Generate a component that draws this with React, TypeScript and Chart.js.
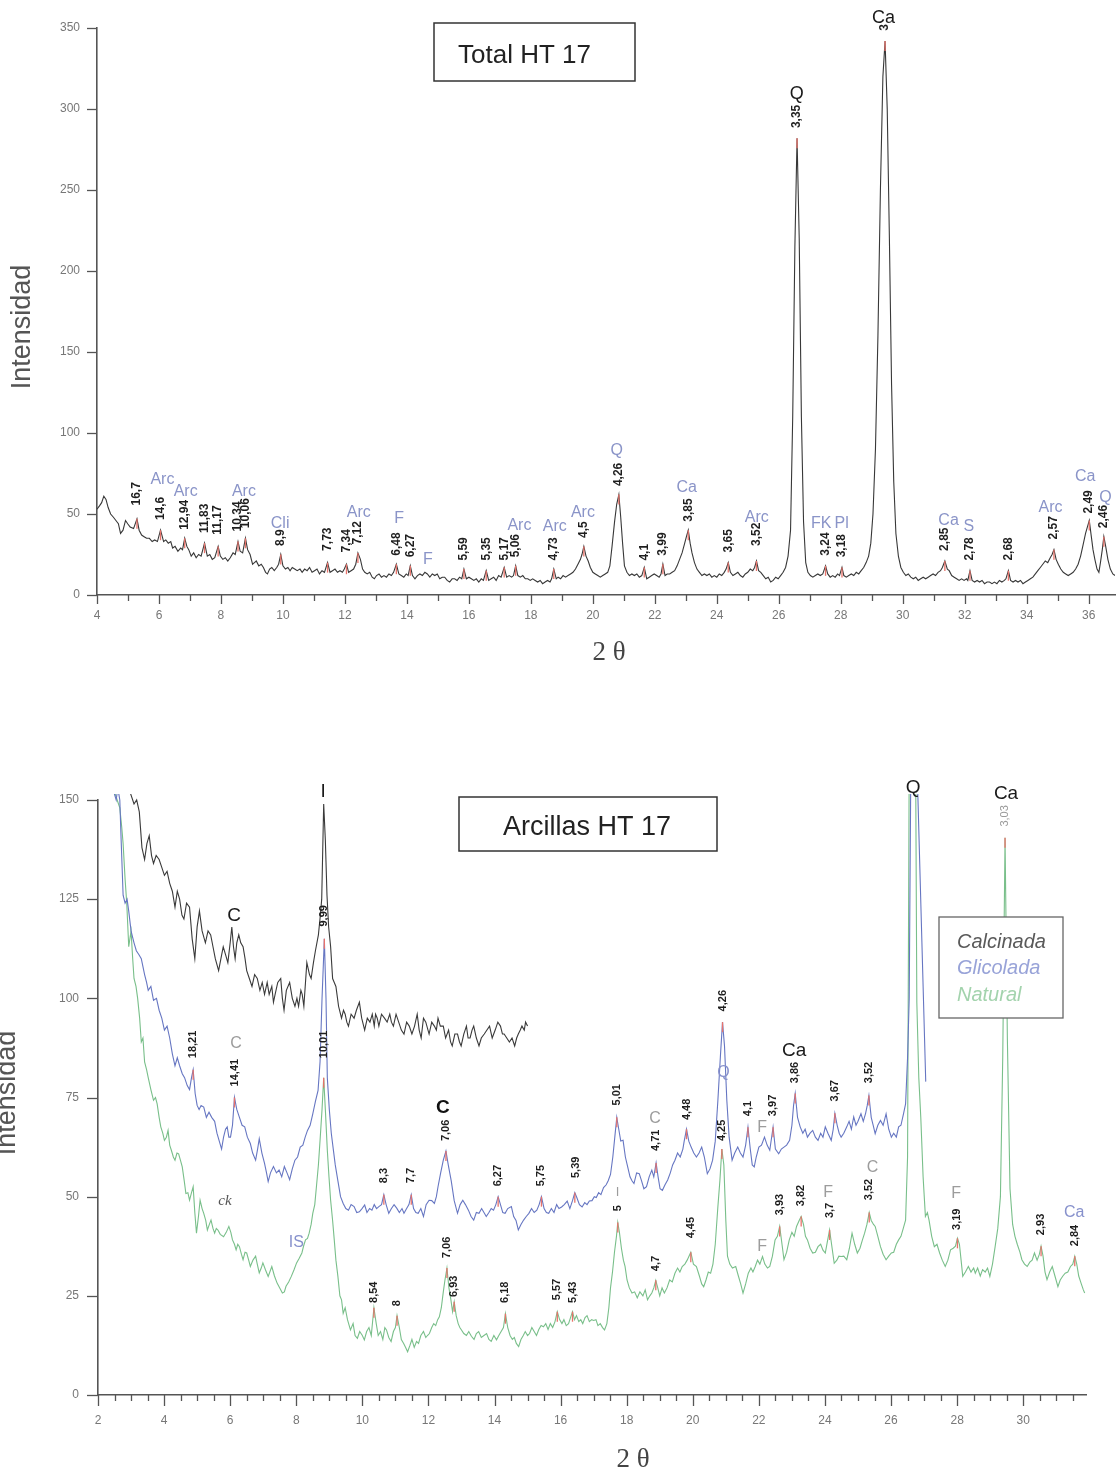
import React, { useEffect, useRef } from "react";
import { Chart, registerables } from "chart.js";

Chart.register(...registerables);

const SANS = '"Liberation Sans", Arial, Helvetica, sans-serif';
const SERIF = '"Liberation Serif", "DejaVu Serif", serif';
Chart.defaults.font.family = SANS;

type Pt = [number, number];

// ================= TOP: Total HT 17 (2θ, intensity) =================
const totalPattern: Pt[] = [
  [4.0,53],[4.08,55],[4.15,57],[4.22,61],[4.29,59],[4.36,54],[4.44,50],[4.53,48],[4.61,46],[4.69,44],[4.76,38],[4.84,40],[4.92,46],[4.99,44],[5.07,42],[5.18,41],[5.29,47],[5.36,40],[5.44,37],[5.52,36],[5.6,35],[5.69,35],[5.78,33],[5.86,34],[5.95,33],[6.05,40],[6.15,33],[6.22,34],[6.3,32],[6.38,33],[6.44,29],[6.52,30],[6.61,27],[6.7,29],[6.76,28],[6.83,35],[6.9,30],[6.96,28],[7.04,24],[7.12,26],[7.2,23],[7.28,25],[7.36,24],[7.47,32],[7.56,24],[7.64,25],[7.72,22],[7.8,23],[7.91,30],[7.98,24],[8.06,22],[8.14,23],[8.22,21],[8.3,23],[8.39,26],[8.46,25],[8.55,33],[8.62,27],[8.7,26],[8.79,35],[8.86,28],[8.94,25],[9.02,19],[9.08,20],[9.14,21],[9.22,18],[9.3,19],[9.37,17],[9.44,14],[9.5,13],[9.57,16],[9.64,17],[9.72,15],[9.8,17],[9.86,19],[9.93,25],[10.0,18],[10.08,16],[10.16,17],[10.23,15],[10.3,17],[10.38,16],[10.46,15],[10.55,16],[10.62,14],[10.7,16],[10.78,15],[10.86,17],[10.94,14],[11.02,15],[11.1,16],[11.18,13],[11.26,15],[11.34,14],[11.44,20],[11.52,14],[11.6,15],[11.68,16],[11.76,14],[11.84,15],[11.92,14],[11.98,16],[12.05,19],[12.12,14],[12.2,15],[12.28,16],[12.35,19],[12.42,26],[12.5,22],[12.57,16],[12.64,14],[12.72,13],[12.8,14],[12.88,11],[12.95,10],[13.02,12],[13.1,13],[13.18,11],[13.26,12],[13.34,11],[13.42,13],[13.5,12],[13.57,14],[13.66,19],[13.74,13],[13.82,12],[13.9,11],[13.98,13],[14.04,12],[14.11,18],[14.18,12],[14.26,10],[14.34,12],[14.42,13],[14.5,12],[14.58,14],[14.66,13],[14.74,11],[14.82,13],[14.9,12],[14.98,13],[15.06,10],[15.14,11],[15.22,11],[15.3,9],[15.38,8],[15.46,10],[15.54,10],[15.62,9],[15.7,11],[15.77,10],[15.84,16],[15.92,10],[16.0,11],[16.08,10],[16.16,9],[16.24,10],[16.32,8],[16.4,10],[16.47,9],[16.56,15],[16.64,9],[16.72,10],[16.8,11],[16.88,9],[16.96,12],[17.04,11],[17.14,17],[17.22,11],[17.3,12],[17.38,11],[17.44,12],[17.51,18],[17.58,12],[17.66,11],[17.74,12],[17.82,10],[17.9,10],[17.98,9],[18.06,10],[18.14,9],[18.22,8],[18.3,9],[18.38,7],[18.46,8],[18.54,9],[18.62,8],[18.67,10],[18.74,16],[18.82,10],[18.88,11],[18.96,10],[19.04,12],[19.12,11],[19.2,12],[19.28,13],[19.36,14],[19.44,16],[19.52,19],[19.6,22],[19.65,25],[19.71,30],[19.78,24],[19.85,21],[19.92,17],[20.0,14],[20.08,13],[20.16,12],[20.24,11],[20.32,12],[20.4,13],[20.48,14],[20.55,18],[20.62,30],[20.7,45],[20.77,56],[20.84,62],[20.9,48],[20.96,32],[21.02,18],[21.1,14],[21.18,12],[21.26,13],[21.34,12],[21.42,13],[21.5,11],[21.58,12],[21.66,17],[21.74,10],[21.82,11],[21.9,12],[21.98,13],[22.06,12],[22.14,11],[22.2,13],[22.26,19],[22.33,12],[22.4,13],[22.48,13],[22.56,14],[22.64,15],[22.72,18],[22.8,22],[22.88,26],[22.95,31],[23.02,36],[23.08,40],[23.14,32],[23.2,26],[23.28,20],[23.36,16],[23.44,14],[23.52,12],[23.6,13],[23.68,12],[23.76,13],[23.84,11],[23.92,12],[24.0,11],[24.08,13],[24.16,12],[24.24,14],[24.3,16],[24.37,20],[24.44,14],[24.52,12],[24.6,13],[24.68,14],[24.76,12],[24.84,11],[24.92,13],[25.0,14],[25.08,16],[25.16,15],[25.22,17],[25.28,21],[25.35,15],[25.42,14],[25.5,12],[25.58,10],[25.66,11],[25.74,8],[25.82,9],[25.9,11],[25.98,10],[26.06,12],[26.14,14],[26.22,17],[26.3,24],[26.38,40],[26.45,110],[26.52,215],[26.59,282],[26.66,220],[26.73,110],[26.8,45],[26.87,20],[26.94,14],[27.02,12],[27.1,11],[27.18,12],[27.26,13],[27.34,12],[27.42,13],[27.51,18],[27.58,13],[27.66,11],[27.74,12],[27.82,11],[27.9,13],[27.96,12],[28.04,17],[28.1,12],[28.18,11],[28.26,12],[28.34,13],[28.42,12],[28.5,14],[28.58,13],[28.66,15],[28.74,17],[28.82,20],[28.9,24],[28.97,32],[29.04,50],[29.12,90],[29.2,160],[29.28,250],[29.36,320],[29.43,342],[29.5,300],[29.57,220],[29.64,130],[29.71,70],[29.78,38],[29.86,24],[29.94,17],[30.02,14],[30.1,12],[30.18,13],[30.26,11],[30.34,10],[30.42,11],[30.5,9],[30.58,10],[30.66,11],[30.74,10],[30.82,11],[30.9,12],[30.98,13],[31.06,12],[31.14,14],[31.22,15],[31.28,17],[31.36,21],[31.44,16],[31.5,15],[31.58,12],[31.66,11],[31.74,10],[31.82,9],[31.9,10],[31.98,9],[32.06,10],[32.1,9],[32.17,15],[32.24,9],[32.32,8],[32.4,9],[32.48,8],[32.56,9],[32.64,7],[32.72,8],[32.8,8],[32.88,7],[32.96,8],[33.04,7],[33.12,9],[33.2,8],[33.28,9],[33.33,10],[33.41,15],[33.48,9],[33.56,8],[33.64,9],[33.72,8],[33.8,9],[33.88,7],[33.96,8],[34.04,9],[34.12,10],[34.2,11],[34.28,13],[34.36,15],[34.44,17],[34.52,19],[34.6,21],[34.68,20],[34.76,23],[34.82,25],[34.88,28],[34.95,22],[35.02,19],[35.1,16],[35.18,14],[35.26,13],[35.34,12],[35.42,13],[35.5,14],[35.58,16],[35.66,19],[35.74,24],[35.82,31],[35.9,38],[35.96,42],[36.02,46],[36.08,37],[36.14,28],[36.2,22],[36.27,16],[36.33,14],[36.38,20],[36.44,28],[36.49,36],[36.55,30],[36.62,22],[36.7,16],[36.78,13],[36.85,12]
];

// d-spacing labels: text, 2θ, intensity where the label starts
const totalPeakLabels: [string, number, number][] = [
  ["16,7",5.29,54],["14,6",6.05,45],["12,94",6.83,39],["11,83",7.47,37],["11,17",7.91,36],["10,34",8.55,38],["10,06",8.79,40],["8,9",9.93,29],["7,73",11.44,26],["7,34",12.05,25],["7,12",12.42,30],["6,48",13.66,23],["6,27",14.11,22],["5,59",15.84,20],["5,35",16.56,20],["5,17",17.14,20],["5,06",17.51,22],["4,73",18.74,20],["4,5",19.71,34],["4,26",20.84,66],["4,1",21.66,20],["3,99",22.26,23],["3,85",23.08,44],["3,65",24.37,25],["3,52",25.28,29],["3,35",26.59,287],["3",29.43,347],["3,24",27.51,23],["3,18",28.04,22],["2,85",31.36,26],["2,78",32.17,20],["2,68",33.41,20],["2,57",34.88,33],["2,49",36.0,49],["2,46",36.49,40]
];

// mineral phase tags: text, 2θ, intensity (centre)
const totalPhaseTags: [string, number, number][] = [
  ["Arc",6.11,71],["Arc",6.86,64],["Arc",8.74,64],["Cli",9.91,44],["Arc",12.45,51],["F",13.75,47],["F",14.68,22],["Arc",17.63,43],["Arc",18.77,42],["Arc",19.68,51],["Q",20.77,89],["Ca",23.03,66],["Arc",25.29,48],["FK",27.37,44],["Pl",28.03,44],["Ca",31.48,46],["S",32.13,42],["Arc",34.77,54],["Ca",35.89,73],["Q",36.54,60]
];
const totalMainTags: [string, number, number][] = [["Q",26.58,309],["Ca",29.38,356]];

// ================= BOTTOM: Arcillas HT 17 =================
const clayLegend = ["Calcinada", "Glicolada", "Natural"];

const calcinada: Pt[] = [
  [2.97,152],[3.09,149],[3.17,150],[3.25,147],[3.33,138],[3.41,135],[3.48,139],[3.55,141],[3.62,136],[3.68,134],[3.76,136],[3.85,135],[3.93,133],[4.01,131],[4.09,132],[4.17,129],[4.25,127],[4.33,123],[4.4,127],[4.47,125],[4.54,121],[4.6,120],[4.68,124],[4.77,123],[4.85,115],[4.93,110],[5.0,118],[5.07,122],[5.15,117],[5.25,114],[5.33,117],[5.41,116],[5.48,113],[5.55,110],[5.65,107],[5.72,110],[5.79,113],[5.86,111],[5.93,109],[6.0,114],[6.05,118],[6.1,113],[6.15,110],[6.2,114],[6.26,116],[6.32,114],[6.39,113],[6.45,110],[6.5,107],[6.58,105],[6.66,103],[6.74,106],[6.82,105],[6.9,102],[6.97,104],[7.04,101],[7.12,104],[7.18,101],[7.26,103],[7.31,99],[7.36,101],[7.44,104],[7.53,105],[7.58,100],[7.63,97],[7.7,102],[7.8,104],[7.88,100],[7.96,98],[8.02,100],[8.07,98],[8.14,102],[8.18,101],[8.23,98],[8.32,109],[8.4,106],[8.45,105],[8.52,109],[8.58,112],[8.67,116],[8.73,121],[8.77,125],[8.83,149],[8.88,140],[8.93,126],[8.98,118],[9.04,113],[9.1,105],[9.15,104],[9.2,103],[9.28,98],[9.37,95],[9.43,97],[9.48,96],[9.53,94],[9.58,93],[9.66,96],[9.75,95],[9.82,97],[9.91,99],[9.98,95],[10.07,92],[10.15,95],[10.23,94],[10.3,96],[10.36,93],[10.4,96],[10.45,95],[10.5,93],[10.58,96],[10.67,95],[10.75,94],[10.83,96],[10.88,94],[10.94,93],[11.02,96],[11.1,94],[11.18,92],[11.26,91],[11.34,94],[11.42,93],[11.5,91],[11.58,93],[11.66,96],[11.72,92],[11.78,90],[11.85,95],[11.92,94],[12.02,91],[12.1,94],[12.18,93],[12.24,92],[12.29,95],[12.36,93],[12.45,93],[12.52,90],[12.61,92],[12.67,89],[12.72,88],[12.8,91],[12.88,91],[12.94,89],[12.99,88],[13.07,91],[13.15,93],[13.2,90],[13.26,90],[13.32,92],[13.37,93],[13.45,90],[13.53,88],[13.6,90],[13.69,91],[13.77,92],[13.85,93],[13.93,90],[14.02,92],[14.1,94],[14.18,93],[14.24,91],[14.29,91],[14.37,90],[14.45,89],[14.53,90],[14.61,88],[14.67,90],[14.72,91],[14.78,92],[14.83,93],[14.9,92],[14.94,94],[15.0,93]
];

const glicolada: Pt[] = [
  [2.42,160],[2.48,152],[2.55,150],[2.6,153],[2.66,150],[2.7,140],[2.76,126],[2.82,124],[2.88,125],[2.93,122],[3.0,117],[3.09,114],[3.16,112],[3.24,111],[3.31,110],[3.36,108],[3.41,106],[3.47,104],[3.52,102],[3.6,103],[3.68,99.5],[3.77,100],[3.85,97],[3.93,95],[4.01,92],[4.09,93],[4.17,90],[4.25,86],[4.33,83],[4.4,85],[4.47,83],[4.55,81],[4.62,80],[4.7,78],[4.77,77],[4.83,80],[4.88,82],[4.94,76],[5.0,73],[5.06,72],[5.12,73],[5.2,72.6],[5.28,70],[5.36,71.3],[5.44,70],[5.53,69],[5.6,66],[5.67,64],[5.74,62],[5.8,65],[5.86,67],[5.91,67.6],[5.96,65],[6.01,65],[6.07,68],[6.13,75],[6.2,72],[6.28,70],[6.36,68],[6.44,67.6],[6.52,65],[6.61,63.4],[6.68,61],[6.77,59.2],[6.83,62],[6.88,64.6],[6.96,61],[7.04,58.4],[7.1,56],[7.15,53.8],[7.22,56],[7.31,57.6],[7.4,56],[7.48,56.7],[7.56,55],[7.64,57.6],[7.72,56],[7.8,54.3],[7.88,57],[7.96,59.2],[8.04,60],[8.12,62.5],[8.2,63],[8.27,65],[8.34,66.7],[8.42,68],[8.5,70.9],[8.58,74],[8.66,76.8],[8.72,84],[8.78,100],[8.85,115],[8.9,100],[8.94,80],[9.0,72],[9.06,66],[9.12,62],[9.18,58],[9.26,54],[9.34,50],[9.42,48.3],[9.5,47],[9.58,46.6],[9.66,48],[9.75,47.5],[9.83,46],[9.91,46.2],[9.99,47],[10.07,47.9],[10.14,46],[10.22,47],[10.29,46.6],[10.36,48],[10.43,47],[10.5,47.5],[10.58,48],[10.65,50.5],[10.72,48],[10.8,45.8],[10.88,47],[10.96,48],[11.04,47.1],[11.12,46],[11.2,47],[11.26,45.8],[11.34,47],[11.41,48],[11.48,50.5],[11.55,47],[11.62,46],[11.69,45.8],[11.77,47],[11.85,45],[11.93,48],[12.02,49.1],[12.1,49],[12.18,48.3],[12.24,50],[12.29,52.5],[12.37,56],[12.45,59.2],[12.53,61.5],[12.6,58],[12.69,54],[12.78,49],[12.88,45.8],[12.96,48],[13.04,49.1],[13.12,48],[13.21,46.6],[13.29,45],[13.37,44.1],[13.45,46],[13.53,45.8],[13.61,47],[13.68,46],[13.75,45],[13.83,46],[13.9,47],[13.97,46.6],[14.04,48],[14.11,50],[14.18,48],[14.25,46],[14.32,45.8],[14.4,47],[14.51,47.5],[14.58,45],[14.65,44],[14.72,41.6],[14.8,43],[14.88,44.1],[14.96,45],[15.04,45.8],[15.12,47],[15.2,46],[15.28,46.6],[15.35,48],[15.42,50],[15.5,47],[15.57,46],[15.64,45.8],[15.72,47],[15.8,46],[15.88,48],[15.95,47],[16.03,47.4],[16.11,48],[16.2,48.9],[16.28,47],[16.36,49],[16.43,51],[16.49,49.8],[16.57,48],[16.65,47.4],[16.73,48.5],[16.8,48],[16.87,48.9],[16.95,49],[17.02,50],[17.08,49.8],[17.15,51],[17.22,50.5],[17.3,52.3],[17.38,53],[17.44,54],[17.51,55.6],[17.58,60],[17.64,65],[17.7,70],[17.76,67],[17.82,64],[17.89,64.2],[17.96,60],[18.03,57.5],[18.1,55],[18.16,54],[18.22,53.3],[18.3,56],[18.38,55.8],[18.45,54],[18.52,52],[18.6,52.5],[18.68,55],[18.76,56.7],[18.82,55],[18.89,58.5],[18.95,55],[19.01,52],[19.08,51.6],[19.16,53],[19.24,54.2],[19.32,56],[19.39,58],[19.46,59.2],[19.54,61],[19.62,60],[19.7,62],[19.74,64],[19.81,67],[19.88,64],[19.95,62.5],[20.03,61],[20.11,60],[20.19,61],[20.27,62.5],[20.35,60],[20.44,55.8],[20.52,57],[20.6,59.2],[20.68,64],[20.76,74.3],[20.84,86],[20.9,94],[20.96,88],[21.03,74.3],[21.1,65],[21.19,59.2],[21.27,61],[21.36,62.5],[21.44,61],[21.52,60],[21.6,63],[21.67,67.5],[21.74,62],[21.8,58],[21.86,57.5],[21.92,60],[22.0,62.5],[22.08,63],[22.17,65],[22.25,63],[22.33,61.7],[22.43,67.5],[22.5,62],[22.6,60.8],[22.68,62],[22.76,62.5],[22.84,63],[22.93,64.2],[23.0,68],[23.05,73],[23.1,76],[23.17,70],[23.25,67.6],[23.33,66],[23.4,67],[23.47,65],[23.55,66],[23.63,66.7],[23.71,65],[23.79,64.2],[23.87,66],[23.94,65],[24.01,67.6],[24.09,66],[24.19,64.2],[24.25,67],[24.3,71],[24.37,68],[24.43,66],[24.49,65],[24.57,66],[24.66,67.6],[24.73,69],[24.8,67],[24.87,70.1],[24.94,68],[25.0,69],[25.09,70.9],[25.16,69],[25.23,71],[25.28,73],[25.33,75.5],[25.4,70],[25.46,68],[25.52,65.9],[25.6,68],[25.68,69.2],[25.76,68],[25.85,70.9],[25.93,67],[26.01,65],[26.08,66],[26.16,65],[26.23,67.6],[26.3,68],[26.38,71],[26.44,73.4],[26.5,85],[26.55,100],[26.6,160],[26.65,200],[27.05,79]
];

const natural: Pt[] = [
  [2.42,160],[2.5,152],[2.58,150],[2.66,148],[2.72,143],[2.76,139],[2.82,130],[2.87,124],[2.93,113],[3.0,117],[3.05,110],[3.09,105],[3.15,103],[3.2,100],[3.26,95],[3.31,89],[3.36,90],[3.41,84],[3.47,82],[3.52,80],[3.6,77],[3.68,74.3],[3.74,75],[3.79,73.4],[3.85,70],[3.9,67.6],[3.96,66],[4.01,64.2],[4.07,65],[4.12,66.7],[4.17,63],[4.22,61.7],[4.28,60],[4.33,59.2],[4.39,61],[4.44,60.8],[4.5,59],[4.55,57.5],[4.61,54],[4.66,50.8],[4.72,51],[4.77,49.1],[4.83,51],[4.88,52.5],[4.93,46],[4.98,40.8],[5.04,45],[5.09,49.1],[5.15,47],[5.2,45.8],[5.26,44],[5.31,41.6],[5.37,43],[5.42,44.1],[5.48,42],[5.53,40.8],[5.58,42],[5.63,41.6],[5.7,40.5],[5.8,39.9],[5.88,41],[5.96,42.5],[6.02,41],[6.07,39.1],[6.13,38],[6.18,36.6],[6.23,38],[6.28,37.4],[6.34,35.5],[6.39,34.1],[6.45,36],[6.5,35.8],[6.56,34],[6.61,32.4],[6.69,34],[6.77,35],[6.82,33],[6.88,30.8],[6.94,32],[6.99,33.3],[7.07,31.5],[7.15,29.9],[7.2,31],[7.26,32.4],[7.34,30],[7.42,28.2],[7.5,27],[7.58,25.7],[7.64,26],[7.69,27.4],[7.77,28.5],[7.85,29.9],[7.93,31.5],[8.01,33.3],[8.09,34.5],[8.17,35.8],[8.22,37.5],[8.28,39.1],[8.34,39.5],[8.39,40.8],[8.45,43],[8.5,45.8],[8.56,48],[8.61,52.5],[8.67,58],[8.72,64.2],[8.78,72],[8.83,80],[8.88,72],[8.94,61.7],[8.99,55],[9.04,49.1],[9.1,44],[9.15,39.1],[9.2,34],[9.26,29.9],[9.32,25],[9.37,24],[9.42,20.6],[9.48,22],[9.55,19],[9.64,16.4],[9.72,18],[9.78,15],[9.85,14.3],[9.92,16],[10.0,15],[10.06,13.9],[10.13,16],[10.2,17],[10.27,15],[10.35,22],[10.42,18],[10.48,15],[10.55,16],[10.62,14],[10.68,17],[10.73,16.4],[10.8,14.5],[10.87,13.5],[10.94,16],[11.0,17],[11.05,20],[11.12,17],[11.18,14],[11.25,13],[11.31,12],[11.37,10.9],[11.44,12.5],[11.5,14],[11.57,12],[11.64,13.5],[11.7,13],[11.77,15],[11.85,16],[11.92,14.5],[11.97,15],[12.03,15.5],[12.1,17],[12.16,18],[12.22,17.5],[12.28,19],[12.33,19.7],[12.39,22],[12.45,26],[12.5,29],[12.56,32],[12.62,27],[12.68,24],[12.73,21],[12.78,23.5],[12.84,20],[12.9,18],[12.95,17],[13.0,16.4],[13.07,15.5],[13.15,15],[13.22,16],[13.3,14.8],[13.38,14],[13.45,15.5],[13.52,16],[13.6,14.5],[13.68,15],[13.76,15.5],[13.83,14],[13.9,13.5],[13.98,15],[14.06,13.9],[14.13,15],[14.2,16],[14.27,17],[14.33,20.5],[14.4,17],[14.47,15],[14.54,14],[14.6,14.5],[14.66,13],[14.73,12.2],[14.8,14],[14.87,15],[14.93,16],[15.0,15],[15.06,15.5],[15.13,17],[15.2,16],[15.27,15],[15.34,16.5],[15.41,17.5],[15.48,17.2],[15.55,18],[15.62,16.5],[15.69,18],[15.76,17],[15.83,18.5],[15.9,21],[15.97,19],[16.04,18],[16.1,19],[16.17,17.5],[16.24,18],[16.3,19.5],[16.36,21],[16.42,19],[16.48,20],[16.55,18.5],[16.61,19],[16.67,18],[16.74,19.5],[16.8,20],[16.87,18.5],[16.94,19],[17.0,18.8],[17.07,19],[17.13,17.5],[17.2,18],[17.27,17],[17.33,16.4],[17.4,18],[17.46,22],[17.51,27],[17.57,31],[17.63,36],[17.69,40],[17.73,43.5],[17.78,41],[17.84,37],[17.9,34],[17.95,32.4],[18.01,29],[18.08,27],[18.16,25.7],[18.24,26],[18.32,24.5],[18.4,26],[18.49,25],[18.56,26.5],[18.63,24],[18.7,25],[18.76,25.7],[18.82,27],[18.88,28.9],[18.94,27],[19.0,25],[19.07,27],[19.14,25.7],[19.22,27],[19.3,29],[19.38,28.5],[19.46,30.7],[19.54,32],[19.61,31],[19.68,32.4],[19.76,33],[19.83,34],[19.94,36],[20.02,33],[20.11,32.4],[20.2,30],[20.27,28],[20.33,27.3],[20.4,29],[20.47,31],[20.54,30.7],[20.61,33],[20.68,38],[20.76,47.5],[20.82,54],[20.88,62],[20.94,58],[21.0,44],[21.05,35],[21.12,33],[21.2,32],[21.3,32.4],[21.38,30],[21.45,28],[21.52,25.7],[21.6,28],[21.68,30.7],[21.76,32],[21.82,31],[21.89,32.4],[21.96,34],[22.03,33],[22.11,34.9],[22.18,33],[22.26,32],[22.33,32.4],[22.41,35],[22.49,39.1],[22.56,40],[22.63,42.5],[22.7,38],[22.76,34.1],[22.84,36],[22.92,39.1],[23.0,41],[23.07,40],[23.14,42.5],[23.22,44],[23.28,45],[23.35,43],[23.41,40],[23.47,39.1],[23.55,37],[23.63,35.8],[23.71,36],[23.79,37.4],[23.87,38],[23.94,36.5],[24.01,35.8],[24.08,39],[24.14,41.6],[24.2,38],[24.28,33.2],[24.36,34],[24.42,35],[24.49,34.9],[24.57,35],[24.66,34.1],[24.74,37],[24.82,40.8],[24.9,38],[24.98,35.8],[25.06,37],[25.13,39],[25.2,40.8],[25.27,43],[25.34,46],[25.4,44],[25.47,43],[25.52,42.5],[25.6,40],[25.68,37.4],[25.76,35.5],[25.85,34.1],[25.93,35],[26.01,35.8],[26.08,36],[26.16,38],[26.23,39.1],[26.3,40],[26.37,42],[26.44,44.1],[26.5,60],[26.56,180],[26.63,320],[26.72,200],[26.78,99],[26.84,80],[26.9,70],[26.97,55],[27.04,45],[27.1,46],[27.15,44.1],[27.23,40],[27.31,37.4],[27.39,38],[27.47,35.8],[27.55,34],[27.64,32.4],[27.72,34],[27.8,36.6],[27.88,37],[27.95,37.5],[28.01,39.5],[28.07,38],[28.12,34],[28.17,29.9],[28.25,31],[28.34,32.4],[28.42,31],[28.5,32],[28.55,30.7],[28.62,32],[28.7,30],[28.77,31.6],[28.85,31],[28.92,32],[28.99,29.9],[29.07,33],[29.15,37.4],[29.23,42],[29.31,50],[29.38,85],[29.45,140.5],[29.52,90],[29.6,52],[29.68,43],[29.75,40],[29.82,38],[29.9,36],[29.96,34.1],[30.04,33],[30.12,32.4],[30.2,33.5],[30.27,34],[30.34,35.8],[30.42,34],[30.49,35.5],[30.54,37.5],[30.6,35],[30.66,31],[30.72,29.1],[30.8,31],[30.88,32.4],[30.96,30],[31.05,27.3],[31.12,29],[31.2,30],[31.27,30.7],[31.35,31],[31.43,32.4],[31.5,33],[31.56,35],[31.62,33],[31.68,30],[31.75,28.2],[31.82,26.5],[31.86,25.7]
];

// d-spacing labels: text, 2θ, intensity where the label starts, series (b = Glicolada, g = Natural)
const clayPeakLabels: [string, number, number, string][] = [
  ["18,21",4.86,84.4,"b"],["14,41",6.13,77.3,"b"],["9,99",8.83,117.6,"b"],["8,3",10.65,52.9,"b"],["7,7",11.48,52.9,"b"],["7,06",12.53,63.5,"b"],["6,27",14.11,52.1,"b"],["5,75",15.42,52.1,"b"],["5,39",16.45,54.2,"b"],["5,01",17.7,72.5,"b"],["4,71",18.89,61,"b"],["4,48",19.81,68.8,"b"],["4,26",20.9,96.2,"b"],["4,1",21.67,69.8,"b"],["3,97",22.43,69.8,"b"],["3,86",23.1,78.1,"b"],["3,67",24.3,73.5,"b"],["3,52",25.33,78.1,"b"],
  ["10,01",8.83,84.4,"g"],["8,54",10.35,22.7,"g"],["8",11.05,21.9,"g"],["7,06",12.56,34,"g"],["6,93",12.78,24.2,"g"],["6,18",14.33,22.7,"g"],["5,57",15.9,23.4,"g"],["5,43",16.36,22.7,"g"],["5",17.73,45.8,"g"],["4,7",18.88,30.7,"g"],["4,45",19.94,39,"g"],["4,25",20.88,63.5,"g"],["3,93",22.63,44.8,"g"],["3,82",23.28,47.1,"g"],["3,7",24.14,44.1,"g"],["3,52",25.34,48.6,"g"],["3,19",28.01,41.1,"g"],["2,93",30.54,39.8,"g"],["2,84",31.56,37,"g"]
];
const clayFaintLabels: [string, number, number, string][] = [["3,03",29.45,142.8,"g"]];

// tags: text, 2θ, intensity (centre), style
const clayTags: [string, number, number, string][] = [
  ["I",8.81,152,"main"],["Q",26.67,153,"main"],["Ca",29.48,151.6,"main"],["C",6.12,120.9,"main"],["C",12.44,72.5,"mainBold"],["Ca",23.07,86.9,"main"],
  ["C",6.18,88.7,"grey"],["C",18.86,69.8,"grey"],["F",22.1,67.5,"grey"],["F",22.1,37.3,"grey"],["F",24.1,51.1,"grey"],["C",25.44,57.4,"grey"],["F",27.97,50.9,"grey"],["I",17.72,51,"greySmall"],
  ["Q",20.93,81.4,"blue"],["Ca",31.54,46.1,"blue"],["IS",8.0,38.3,"blue"],["ck",5.84,49,"hand"]
];

// ================= styling =================
const TAG_STYLE: Record<string, { font: string; color: string }> = {
  phase: { font: `16px ${SANS}`, color: "#8a94c8" },
  main: { font: `19px ${SANS}`, color: "#1a1a1a" },
  mainBold: { font: `bold 19px ${SANS}`, color: "#111" },
  grey: { font: `16px ${SANS}`, color: "#9c9c9c" },
  greySmall: { font: `13px ${SANS}`, color: "#9c9c9c" },
  blue: { font: `16px ${SANS}`, color: "#8791cc" },
  hand: { font: `italic 15px ${SERIF}`, color: "#555" },
};

type PeakItem = { text: string; x: number; base: number; key: string; color: string; font: string };
type TagItem = { text: string; x: number; y: number; font: string; color: string };
type TextItem = { text: string; x: number; y: number; font: string; color: string; rotate?: boolean; align?: CanvasTextAlign; baseline?: CanvasTextBaseline };
type BoxItem = { l: number; t: number; r: number; b: number; color: string; lw: number };

interface Deco {
  series: Record<string, Pt[]>;
  peaks: PeakItem[];
  tags: TagItem[];
  texts: TextItem[];
  boxes: BoxItem[];
  redLen: number;
  xMajorLen: number;
  xMinorLen: number;
  yTickLen: number;
}

function vText(ctx: CanvasRenderingContext2D, text: string, x: number, y: number, align: CanvasTextAlign) {
  ctx.save();
  ctx.translate(x, y);
  ctx.rotate(-Math.PI / 2);
  ctx.textAlign = align;
  ctx.textBaseline = "middle";
  ctx.fillText(text, 0, 0);
  ctx.restore();
}

function decoPlugin(id: string, d: Deco) {
  return {
    id,
    afterDraw(chart: any) {
      const ctx: CanvasRenderingContext2D = chart.ctx;
      const xs = chart.scales.x;
      const ys = chart.scales.y;
      const area = chart.chartArea;
      ctx.save();
      for (const b of d.boxes) {
        ctx.fillStyle = "#fff";
        ctx.fillRect(b.l, b.t, b.r - b.l, b.b - b.t);
        ctx.strokeStyle = b.color;
        ctx.lineWidth = b.lw;
        ctx.strokeRect(b.l, b.t, b.r - b.l, b.b - b.t);
      }
      ctx.strokeStyle = "#555";
      ctx.lineWidth = 1.3;
      for (const t of xs.ticks) {
        const px = Math.round(xs.getPixelForValue(t.value)) + 0.5;
        const major = t.label !== "" && t.label != null;
        ctx.beginPath();
        ctx.moveTo(px, area.bottom);
        ctx.lineTo(px, area.bottom + (major ? d.xMajorLen : d.xMinorLen));
        ctx.stroke();
      }
      for (const t of ys.ticks) {
        const py = Math.round(ys.getPixelForValue(t.value)) + 0.5;
        ctx.beginPath();
        ctx.moveTo(area.left - d.yTickLen, py);
        ctx.lineTo(area.left, py);
        ctx.stroke();
      }
      ctx.strokeStyle = "#e8736b";
      ctx.lineWidth = 1.3;
      for (const p of d.peaks) {
        const s = d.series[p.key];
        let best: Pt | null = null;
        for (const q of s) {
          if (Math.abs(q[0] - p.x) <= 0.09 && (!best || q[1] > best[1])) best = q;
        }
        if (!best || best[1] > ys.max) continue;
        const px = xs.getPixelForValue(best[0]);
        const py = ys.getPixelForValue(best[1]);
        ctx.beginPath();
        ctx.moveTo(px, py);
        ctx.lineTo(px, py + d.redLen);
        ctx.stroke();
      }
      for (const p of d.peaks) {
        ctx.font = p.font;
        ctx.fillStyle = p.color;
        vText(ctx, p.text, xs.getPixelForValue(p.x), ys.getPixelForValue(p.base) - 2, "left");
      }
      for (const t of d.tags) {
        ctx.font = t.font;
        ctx.fillStyle = t.color;
        ctx.textAlign = "center";
        ctx.textBaseline = "middle";
        ctx.fillText(t.text, xs.getPixelForValue(t.x), ys.getPixelForValue(t.y));
      }
      for (const t of d.texts) {
        ctx.font = t.font;
        ctx.fillStyle = t.color;
        if (t.rotate) {
          vText(ctx, t.text, t.x, t.y, "center");
        } else {
          ctx.textAlign = t.align || "center";
          ctx.textBaseline = t.baseline || "middle";
          ctx.fillText(t.text, t.x, t.y);
        }
      }
      ctx.restore();
    },
  };
}

function axisOptions(min: number, max: number, step: number, labelEvery: number, tickLen: number, pad: number, size: number, fit: (s: any) => void) {
  return {
    type: "linear" as const,
    min,
    max,
    afterFit: fit,
    border: { display: true, color: "#555", width: 1.6 },
    grid: { display: true, drawOnChartArea: false, drawTicks: true, tickLength: tickLen, tickColor: "rgba(0,0,0,0)", color: "rgba(0,0,0,0)" },
    ticks: {
      stepSize: step,
      includeBounds: false,
      autoSkip: false,
      maxRotation: 0,
      minRotation: 0,
      padding: pad,
      color: "#777",
      font: { size, family: SANS },
      callback: (v: number) => {
        const r = Math.round(v);
        return Math.abs(v - r) < 1e-6 && r % labelEvery === 0 ? String(r) : "";
      },
    },
  };
}

function toXY(s: Pt[]) {
  return s.map(([x, y]) => ({ x, y }));
}

function topConfig(): any {
  const deco: Deco = {
    series: { t: totalPattern },
    peaks: totalPeakLabels.map(([text, x, base]) => ({ text, x, base, key: "t", color: "#1e1e1e", font: `bold 12px ${SANS}` })),
    tags: [
      ...totalPhaseTags.map(([text, x, y]) => ({ text, x, y, ...TAG_STYLE.phase })),
      ...totalMainTags.map(([text, x, y]) => ({ text, x, y, font: `18px ${SANS}`, color: "#1a1a1a" })),
    ],
    texts: [
      { text: "Intensidad", x: 23, y: 327, font: `27px ${SANS}`, color: "#555", rotate: true },
      { text: "2 θ", x: 609, y: 653, font: `27px ${SERIF}`, color: "#444" },
      { text: "Total HT 17", x: 458, y: 63, font: `26px ${SANS}`, color: "#222", align: "left", baseline: "alphabetic" },
    ],
    boxes: [{ l: 434, t: 23, r: 635, b: 81, color: "#333", lw: 1.5 }],
    redLen: 10,
    xMajorLen: 9,
    xMinorLen: 6,
    yTickLen: 10,
  };
  return {
    type: "line",
    data: {
      datasets: [
        { label: "Total HT 17", data: toXY(totalPattern), borderColor: "#383838", borderWidth: 1.1, pointRadius: 0, tension: 0 },
      ],
    },
    options: {
      responsive: false,
      maintainAspectRatio: false,
      animation: false,
      events: [],
      layout: { padding: { top: 28, right: 4, left: 0, bottom: 0 } },
      plugins: { legend: { display: false }, tooltip: { enabled: false }, title: { display: false } },
      scales: {
        x: axisOptions(4, 36.85, 1, 2, 9, 4, 12, (s: any) => { s.height = 105; }),
        y: axisOptions(0, 350, 50, 50, 10, 7, 12, (s: any) => { s.width = 97; }),
      },
    },
    plugins: [decoPlugin("decoTop", deco)],
  };
}

const BOTTOM_TOP = 730;

function bottomConfig(): any {
  const peaks: PeakItem[] = [
    ...clayPeakLabels.map(([text, x, base, key]) => ({ text, x, base, key, color: "#1e1e1e", font: `bold 11px ${SANS}` })),
    ...clayFaintLabels.map(([text, x, base, key]) => ({ text, x, base, key, color: "#9a9a9a", font: `11px ${SANS}` })),
  ];
  const deco: Deco = {
    series: { k: calcinada, b: glicolada, g: natural },
    peaks,
    tags: clayTags.map(([text, x, y, st]) => ({ text, x, y, ...TAG_STYLE[st] })),
    texts: [
      { text: "Intensidad", x: 8, y: 1093 - BOTTOM_TOP, font: `27px ${SANS}`, color: "#555", rotate: true },
      { text: "2 θ", x: 633, y: 1460 - BOTTOM_TOP, font: `27px ${SERIF}`, color: "#444" },
      { text: "Arcillas HT 17", x: 503, y: 835 - BOTTOM_TOP, font: `27px ${SANS}`, color: "#222", align: "left", baseline: "alphabetic" },
      { text: clayLegend[0], x: 957, y: 942 - BOTTOM_TOP, font: `italic 20px ${SANS}`, color: "#5a5a5a", align: "left" },
      { text: clayLegend[1], x: 957, y: 968 - BOTTOM_TOP, font: `italic 20px ${SANS}`, color: "#98a3d8", align: "left" },
      { text: clayLegend[2], x: 957, y: 995 - BOTTOM_TOP, font: `italic 20px ${SANS}`, color: "#a3d3ad", align: "left" },
    ],
    boxes: [
      { l: 459, t: 797 - BOTTOM_TOP, r: 717, b: 851 - BOTTOM_TOP, color: "#333", lw: 1.5 },
      { l: 939, t: 917 - BOTTOM_TOP, r: 1063, b: 1018 - BOTTOM_TOP, color: "#666", lw: 1.3 },
    ],
    redLen: 10,
    xMajorLen: 11,
    xMinorLen: 6,
    yTickLen: 11,
  };
  const ds = (label: string, s: Pt[], color: string) => ({
    label,
    data: toXY(s),
    borderColor: color,
    borderWidth: 1.1,
    pointRadius: 0,
    tension: 0,
    clip: { left: 0, top: 6, right: 0, bottom: 0 },
  });
  return {
    type: "line",
    data: {
      datasets: [
        ds(clayLegend[0], calcinada, "#3a3a3a"),
        ds(clayLegend[1], glicolada, "#6676c2"),
        ds(clayLegend[2], natural, "#79bf8a"),
      ],
    },
    options: {
      responsive: false,
      maintainAspectRatio: false,
      animation: false,
      events: [],
      layout: { padding: { top: 800 - BOTTOM_TOP, right: 33, left: 0, bottom: 0 } },
      plugins: { legend: { display: false }, tooltip: { enabled: false }, title: { display: false } },
      scales: {
        x: axisOptions(2, 31.9, 0.5, 2, 11, 7, 12, (s: any) => { s.height = 745 - (1395 - BOTTOM_TOP); }),
        y: axisOptions(0, 150, 25, 25, 11, 8, 12, (s: any) => { s.width = 98; }),
      },
    },
    plugins: [decoPlugin("decoBottom", deco)],
  };
}

function ChartCanvas({ build, top, height }: { build: () => any; top: number; height: number }) {
  const ref = useRef<HTMLCanvasElement | null>(null);
  useEffect(() => {
    if (!ref.current) return;
    const chart = new Chart(ref.current, build());
    return () => chart.destroy();
  }, [build]);
  return (
    <canvas
      ref={ref}
      width={1119}
      height={height}
      style={{ position: "absolute", left: 0, top, width: 1119, height, display: "block" }}
    />
  );
}

export default function App() {
  return (
    <div style={{ position: "absolute", left: 0, top: 0, width: 1119, height: 1475, background: "#fff", overflow: "hidden" }}>
      <ChartCanvas build={topConfig} top={0} height={700} />
      <ChartCanvas build={bottomConfig} top={BOTTOM_TOP} height={745} />
    </div>
  );
}
